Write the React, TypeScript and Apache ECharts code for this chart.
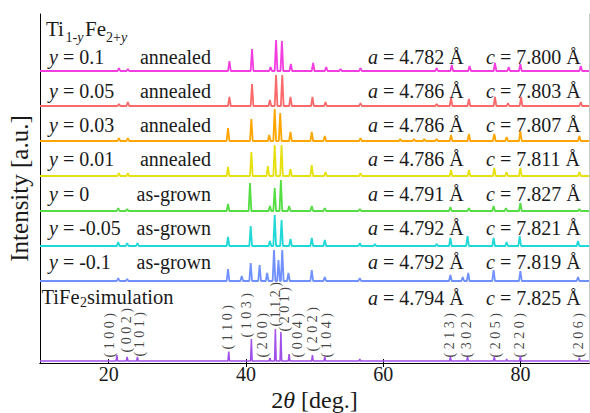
import React, { useEffect, useRef } from 'react';
import * as echarts from 'echarts';

const FONT = "'Liberation Serif', 'Times New Roman', serif";
const TEXT = '#1a1a1a';

const X_MIN = 10;
const X_MAX = 90;
const xTicks = [20, 40, 60, 80];
const topTicks = [40, 60, 80];

// sample rows, top to bottom
const yValues = ['0.1', '0.05', '0.03', '0.01', '0', '-0.05', '-0.1'];
const treatments = ['annealed', 'annealed', 'annealed', 'annealed', 'as-grown', 'as-grown', 'as-grown'];
const aValues = ['4.782', '4.786', '4.786', '4.786', '4.791', '4.792', '4.792'];
const cValues = ['7.800', '7.803', '7.807', '7.811', '7.827', '7.821', '7.819'];
const colors = ['#f23ee0', '#fa6a6a', '#ffa500', '#e6e010', '#55dd44', '#20d8d8', '#7090ff'];

// peak lists: [2theta, intensity (a.u.)]
const peaksY010 = [[21.5, 3], [22.8, 2], [37.6, 10], [40.9, 22], [43.6, 4], [44.4, 31], [45.25, 30], [46.55, 7], [49.8, 8], [51.7, 4], [53.8, 2], [56.7, 3], [67.8, 3], [70.0, 6], [72.6, 5], [76.3, 8], [78.3, 4], [80.0, 7], [88.8, 5]];
const peaksY005 = [[21.5, 2], [22.8, 4], [37.6, 9], [40.9, 22], [43.5, 6], [44.4, 31], [45.3, 31], [46.5, 9], [49.7, 9], [51.6, 4], [56.7, 3], [67.8, 2], [69.9, 8], [72.5, 7], [76.3, 9], [78.2, 3], [80.1, 9], [88.8, 4]];
const peaksY003 = [[21.5, 3], [22.8, 3], [37.4, 13], [40.8, 22], [43.4, 6], [44.2, 32], [45.0, 28], [46.5, 9], [49.6, 9], [51.5, 5], [56.7, 3], [62.5, 2], [64.5, 2], [66.0, 2], [67.8, 2], [69.9, 6], [72.5, 7], [76.2, 7], [78.0, 4], [80.0, 10], [88.6, 5]];
const peaksY001 = [[21.5, 3], [22.8, 3], [37.4, 9], [40.8, 24], [43.2, 10], [44.2, 31], [45.2, 31], [46.5, 7], [49.6, 11], [51.6, 4], [56.7, 3], [69.9, 6], [72.5, 6], [76.2, 8], [78.0, 4], [80.0, 8], [88.6, 4]];
const peaksY000 = [[21.4, 3], [22.7, 2], [37.4, 7], [40.6, 28], [43.5, 5], [44.2, 23], [45.1, 31], [46.3, 5], [49.6, 5], [51.5, 3], [56.6, 2], [69.8, 4], [72.5, 3], [76.1, 5], [77.9, 3], [80.0, 8], [88.6, 2]];
const peaksYm005 = [[21.4, 4], [22.7, 3], [24.2, 3], [37.4, 9], [40.7, 20], [43.5, 5], [44.2, 31], [45.2, 26], [46.5, 7], [49.6, 8], [51.5, 6], [56.6, 3], [58.8, 2], [67.8, 2], [69.8, 8], [72.3, 10], [76.1, 8], [78.0, 4], [79.9, 10], [88.4, 5]];
const peaksYm010 = [[21.4, 3], [22.7, 2], [37.4, 12], [39.4, 5], [40.7, 18], [42.0, 16], [43.1, 8], [44.1, 31], [44.75, 21], [45.3, 31], [46.2, 8], [49.6, 11], [51.5, 4], [56.6, 3], [69.8, 6], [71.6, 4], [72.4, 8], [76.1, 11], [80.0, 10], [88.4, 4]];
const samplePeaks = [peaksY010, peaksY005, peaksY003, peaksY001, peaksY000, peaksYm005, peaksYm010];

// TiFe2 simulation
const simA = '4.794';
const simC = '7.825';
const simColor = '#a050e8';
const simPeaks = [[21.2, 6], [22.7, 4], [24.2, 4], [37.5, 9.5], [40.8, 22], [43.5, 3], [44.3, 32], [45.1, 29], [46.3, 7], [49.7, 6], [51.5, 4], [56.6, 2], [69.8, 4], [72.3, 4], [76.2, 4], [78.0, 2], [80.0, 5], [88.6, 3]];
const hklNames = ['( 1 0 0 )', '( 0 0 2 )', '( 1 0 1 )', '( 1 1 0 )', '( 1 0 3 )', '( 2 0 0 )', '( 1 1 2 )', '( 2 0 1 )', '( 0 0 4 )', '( 2 0 2 )', '( 1 0 4 )', '( 2 1 3 )', '( 3 0 2 )', '( 2 0 5 )', '( 2 2 0 )', '( 2 0 6 )'];
const hklLabelX = [20.2, 22.65, 24.5, 37.4, 40.2, 42.5, 44.4, 45.7, 47.6, 49.8, 51.8, 69.7, 72.2, 76.4, 80.0, 88.6];
const hklLabelY = [3, 8, 4, 11, 23, 3, 34, 29, 3, 9, 3, 3, 3, 3, 3, 3];

// layout constants
const Y_MAX = 349;
const SIM_OFFSET = 2;
const SAMPLE_BASE = 82;
const SAMPLE_STEP = 35;
const HALF_WIDTH = 0.2;

function trace(peaks: number[][], offset: number, hw: number) {
  const pts: number[][] = [[X_MIN, offset]];
  for (const [p, h] of peaks) {
    pts.push([p - hw, offset], [p, offset + h], [p + hw, offset]);
  }
  pts.push([X_MAX, offset]);
  return pts;
}

function txt(x: number, y: number, text: string, size: number, align: string = 'left', rich?: any) {
  return {
    type: 'text',
    x,
    y,
    silent: true,
    style: {
      text,
      fontSize: size,
      fontFamily: FONT,
      fill: TEXT,
      align,
      verticalAlign: 'middle',
      rich,
    },
  };
}

function italicRich(size: number) {
  return {
    i: { fontSize: size, fontFamily: FONT, fontStyle: 'italic', fill: TEXT },
    r: { fontSize: size, fontFamily: FONT, fill: TEXT },
  };
}

export default function App() {
  const ref = useRef<HTMLDivElement>(null);
  useEffect(() => {
    const chart = echarts.init(ref.current!, null, { renderer: 'svg' });
    const series: any[] = [];
    samplePeaks.forEach((pk, k) => {
      const offset = SAMPLE_BASE + SAMPLE_STEP * (samplePeaks.length - 1 - k);
      series.push({
        type: 'line',
        data: trace(pk, offset, HALF_WIDTH),
        symbol: 'none',
        lineStyle: { color: colors[k], width: 1.8 },
        z: 3,
        silent: true,
      });
    });
    series.push({
      type: 'line',
      data: trace(simPeaks, SIM_OFFSET, 0.12),
      symbol: 'none',
      lineStyle: { color: simColor, width: 1.5 },
      z: 3,
      silent: true,
    });
    series.push({
      type: 'scatter',
      data: hklNames.map((n, i) => ({ name: n, value: [hklLabelX[i], SIM_OFFSET + hklLabelY[i]] })),
      symbolSize: 1,
      itemStyle: { color: 'rgba(0,0,0,0)' },
      silent: true,
      label: {
        show: true,
        formatter: (p: any) => p.name,
        position: [0, 0],
        rotate: 90,
        align: 'left',
        verticalAlign: 'middle',
        fontSize: 14,
        fontFamily: FONT,
        color: '#111',
      },
    });

    const graphics: any[] = [];
    const rowY = (i: number) => 56.5 + 34.3 * i;
    // title
    graphics.push(txt(46, 29, 'Ti', 21));
    graphics.push(txt(65.5, 37, '{r|1-}{i|y}', 14, 'left', italicRich(14)));
    graphics.push(txt(85, 29, 'Fe', 21));
    graphics.push(txt(106, 37, '{r|2+}{i|y}', 14, 'left', italicRich(14)));
    yValues.forEach((v, i) => {
      graphics.push(txt(49, rowY(i), `{i|y}{r| = ${v}}`, 20, 'left', italicRich(20)));
      graphics.push(txt(211, rowY(i), treatments[i], 20, 'right'));
      graphics.push(txt(368, rowY(i), `{i|a}{r| = ${aValues[i]} Å}`, 20, 'left', italicRich(20)));
      graphics.push(txt(486, rowY(i), `{i|c}{r| = ${cValues[i]} Å}`, 20, 'left', italicRich(20)));
    });
    const simRow = rowY(7);
    graphics.push(txt(41.5, simRow, 'TiFe', 20.5));
    graphics.push(txt(80, simRow + 5.5, '2', 14));
    graphics.push(txt(87, simRow, 'simulation', 20.5));
    graphics.push(txt(368, simRow + 1, `{i|a}{r| = ${simA} Å}`, 20, 'left', italicRich(20)));
    graphics.push(txt(486, simRow + 1, `{i|c}{r| = ${simC} Å}`, 20, 'left', italicRich(20)));

    chart.setOption({
      animation: false,
      backgroundColor: '#ffffff',
      grid: { left: 40, right: 1, top: 14, bottom: 50, containLabel: false, outerBoundsMode: 'none' },
      xAxis: [
        {
          type: 'value',
          min: X_MIN,
          max: X_MAX,
          position: 'bottom',
          name: '{n|2}{i|θ}{n| [deg.]}',
          nameLocation: 'middle',
          nameGap: 25,
          nameMoveOverlap: false,
          nameTextStyle: {
            fontSize: 24,
            fontFamily: FONT,
            color: TEXT,
            rich: {
              n: { fontSize: 24, fontFamily: FONT, color: TEXT },
              i: { fontSize: 24, fontFamily: FONT, color: TEXT, fontStyle: 'italic' },
            },
          },
          axisLine: { show: true, lineStyle: { color: '#000', width: 1 } },
          axisTick: { show: true, inside: true, length: 4, customValues: xTicks, lineStyle: { color: '#000' } },
          axisLabel: { show: true, customValues: xTicks, fontSize: 20, fontFamily: FONT, color: TEXT, margin: 1 },
          splitLine: { show: false },
        },
        {
          type: 'value',
          min: X_MIN,
          max: X_MAX,
          position: 'top',
          axisLine: { show: true, lineStyle: { color: '#000', width: 1 } },
          axisTick: { show: true, inside: true, length: 4, customValues: topTicks, lineStyle: { color: '#000' } },
          axisLabel: { show: false },
          splitLine: { show: false },
        },
      ],
      yAxis: [
        {
          type: 'value',
          min: 0,
          max: Y_MAX,
          position: 'left',
          name: 'Intensity [a.u.]',
          nameLocation: 'middle',
          nameGap: 8,
          nameTextStyle: { fontSize: 25, fontFamily: FONT, color: TEXT },
          axisLine: { show: true, lineStyle: { color: '#000', width: 1 } },
          axisTick: { show: false },
          axisLabel: { show: false },
          splitLine: { show: false },
        },
        {
          type: 'value',
          min: 0,
          max: Y_MAX,
          position: 'right',
          axisLine: { show: true, lineStyle: { color: '#c8c8c8', width: 1 } },
          axisTick: { show: false },
          axisLabel: { show: false },
          splitLine: { show: false },
        },
      ],
      series,
      graphic: graphics,
    });
    return () => chart.dispose();
  }, []);
  return <div ref={ref} style={{ position: 'absolute', left: 0, top: 0, width: 590, height: 413 }} />;
}
